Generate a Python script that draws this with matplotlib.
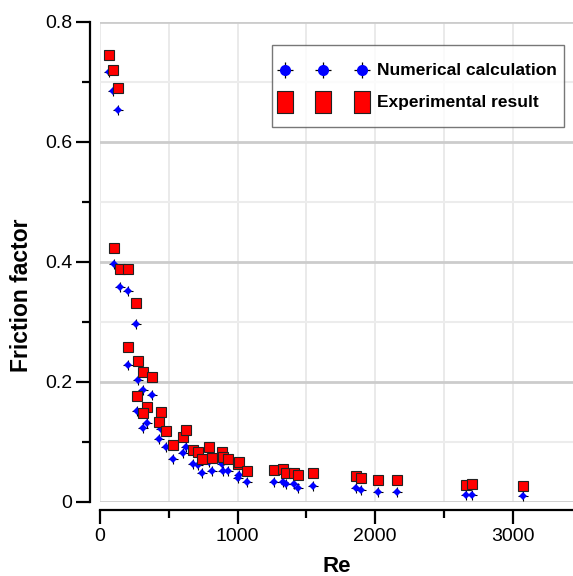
import numpy as np
import matplotlib
matplotlib.use("Agg")
import matplotlib.pyplot as plt
from matplotlib.lines import Line2D
from matplotlib.legend_handler import HandlerTuple, HandlerLine2D
from matplotlib.ticker import MultipleLocator

plt.rcParams['font.family'] = ['Liberation Sans', 'DejaVu Sans']

# 資料 (Re, 實驗值, 數值計算)
re_vals = [68, 92, 130, 104, 145, 205, 264, 202, 275, 310, 376, 271, 342, 315,
           444, 431, 477, 529, 606, 625, 679, 715, 745, 795, 817, 889, 897, 931,
           1000, 1013, 1067, 1268, 1333, 1353, 1413, 1442, 1547, 1862, 1898,
           2024, 2162, 2662, 2705, 3079]
f_exp = [0.745, 0.720, 0.690, 0.423, 0.388, 0.388, 0.332, 0.259, 0.235, 0.217,
         0.209, 0.177, 0.159, 0.148, 0.150, 0.133, 0.118, 0.095, 0.108, 0.120,
         0.087, 0.084, 0.072, 0.091, 0.073, 0.084, 0.075, 0.071, 0.063, 0.066,
         0.052, 0.053, 0.055, 0.049, 0.049, 0.045, 0.048, 0.043, 0.040, 0.037,
         0.037, 0.028, 0.030, 0.027]
f_num = [0.716, 0.685, 0.653, 0.396, 0.358, 0.352, 0.296, 0.229, 0.203, 0.187,
         0.178, 0.151, 0.131, 0.123, 0.122, 0.105, 0.092, 0.072, 0.082, 0.092,
         0.063, 0.061, 0.049, 0.066, 0.051, 0.063, 0.052, 0.051, 0.040, 0.045,
         0.033, 0.033, 0.034, 0.030, 0.030, 0.024, 0.027, 0.023, 0.020, 0.017,
         0.017, 0.012, 0.012, 0.010]


# 圖例標記往下移，對齊文字
class DownHandler(HandlerLine2D):
    def create_artists(self, legend, orig_handle, xdescent, ydescent,
                       width, height, fontsize, trans):
        arts = super().create_artists(legend, orig_handle, xdescent, ydescent,
                                      width, height, fontsize, trans)
        for a in arts:
            a.set_ydata(np.asarray(a.get_ydata()) - 0.35 * fontsize)
        return arts


fig = plt.figure(figsize=(5.73, 5.76), dpi=100)
ax = fig.add_axes([100 / 573, 74 / 576, 473 / 573, 480 / 576])

# 數值計算：藍點加黑色十字
ax.plot(re_vals, f_num, linestyle='none', marker='+', color='black',
        markersize=7, markeredgewidth=0.8, zorder=3)
ax.plot(re_vals, f_num, linestyle='none', marker='D', color='#0000ff',
        markersize=3.6, markeredgewidth=0, zorder=4)
# 實驗值：紅色方塊
ax.plot(re_vals, f_exp, linestyle='none', marker='s', markerfacecolor='#ff0000',
        markeredgecolor='#222222', markeredgewidth=0.8, markersize=7.3, zorder=5)

ax.set_xlim(0, 3440)
ax.set_ylim(0, 0.8)
ax.xaxis.set_major_locator(MultipleLocator(1000))
ax.xaxis.set_minor_locator(MultipleLocator(500))
ax.yaxis.set_major_locator(MultipleLocator(0.2))
ax.yaxis.set_minor_locator(MultipleLocator(0.1))
ax.yaxis.set_major_formatter(lambda v, p: '0' if v == 0 else f'{v:.1f}')

ax.grid(True, which='major', axis='y', color='#cccccc', linewidth=2)
ax.grid(True, which='minor', axis='y', color='#ececec', linewidth=1.5)
ax.grid(True, which='both', axis='x', color='#e8e8e8', linewidth=1.3)
ax.set_axisbelow(True)

for s in ['top', 'right']:
    ax.spines[s].set_visible(False)
ax.spines['left'].set_position(('outward', 7))
ax.spines['bottom'].set_position(('outward', 6))
ax.spines['left'].set_linewidth(1.6)
ax.spines['bottom'].set_linewidth(1.6)
ax.tick_params(which='major', length=10, width=1.6, labelsize=14, pad=3)
ax.tick_params(which='minor', length=6, width=1.6)

ax.set_xlabel('Re', fontsize=16, fontweight='bold', labelpad=8)
ax.set_ylabel('Friction factor', fontsize=16.5, fontweight='bold', va='center')
ax.yaxis.set_label_coords(-0.165, 0.43)

# 圖例
h_num = (Line2D([], [], linestyle='none', marker='+', color='black',
                markersize=12, markeredgewidth=0.9),
         Line2D([], [], linestyle='none', marker='o', color='#0000ff',
                markersize=8, markeredgewidth=0))
rect = [(-0.7, -1), (0.7, -1), (0.7, 1), (-0.7, 1), (-0.7, -1)]
h_exp = Line2D([], [], linestyle='none', marker=rect, markerfacecolor='#ff0000',
               markeredgecolor='#222222', markeredgewidth=0.8, markersize=16)
leg = ax.legend([h_num, h_exp], ['Numerical calculation', 'Experimental result'],
                handler_map={Line2D: DownHandler(),
                             tuple: HandlerTuple(ndivide=1)},
                numpoints=3, handlelength=5.0, handletextpad=0.56,
                handleheight=2.58, labelspacing=-0.05, borderpad=0.45,
                fancybox=False, loc='upper left',
                bbox_to_anchor=(0.364, 0.952), borderaxespad=0,
                prop={'size': 12.5, 'weight': 'bold'})
leg.get_frame().set_edgecolor('#555555')
leg.get_frame().set_linewidth(1)

plt.savefig('out.png', dpi=100)
